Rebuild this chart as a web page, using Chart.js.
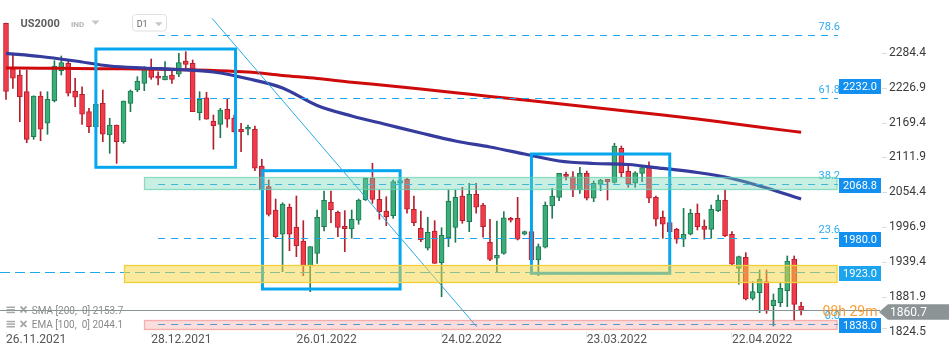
<!DOCTYPE html>
<html><head><meta charset="utf-8">
<script src="https://cdn.jsdelivr.net/npm/chart.js@4.4.1/dist/chart.umd.min.js"></script>
<style>html,body{margin:0;padding:0;background:#fff;overflow:hidden}canvas{display:block}</style>
</head><body>
<canvas id="c" width="949" height="358"></canvas>
<script>
// ---------- data ----------
const symbol = 'US2000';
const tickIndex = [0, 21, 42, 63, 84, 105];
const tickLabels = ['26.11.2021', '28.12.2021', '26.01.2022', '24.02.2022', '23.03.2022', '22.04.2022'];
const priceTicks = [2284.4, 2226.9, 2169.4, 2111.9, 2054.4, 1996.9, 1939.4, 1881.9, 1824.5];

const open = [2332.8,2258.7,2247.7,2220.2,2146.1,2213.1,2168.2,2205.4,2254.8,2267.0,2221.4,2215.9,2187.3,2162.6,2201.1,2148.9,2165.4,2137.9,2201.1,2223.0,2234.0,2258.7,2246.1,2239.5,2247.7,2248.9,2270.8,2267.0,2185.6,2210.3,2172.0,2166.5,2191.2,2176.9,2158.3,2158.3,2158.3,2097.9,2063.8,2025.4,1985.4,2029.9,1996.9,1974.4,1933.2,1954.1,1997.9,2038.6,2021.6,1998.6,1994.1,2008.5,2041.9,2077.6,2043.0,2023.8,2016.0,2069.4,2076.0,2026.6,1995.3,1962.4,1990.8,1938.6,1979.8,1996.9,2048.5,2006.1,2051.3,2033.6,1972.2,1945.9,1954.1,2011.7,2011.7,1985.4,1989.7,1943.1,1964.0,2032.0,2046.3,2084.2,2080.2,2058.3,2085.8,2044.7,2067.7,2076.0,2071.0,2127.0,2089.1,2069.4,2085.8,2095.1,2046.3,2013.4,2004.5,1993.6,1977.2,1985.4,2020.0,1999.1,1993.6,2024.3,2041.9,1985.4,1929.4,1947.5,1880.0,1889.2,1907.4,1867.8,1872.8,1892.5,1944.7,1867.3];
const high = [2333.0,2283.9,2255.9,2255.9,2213.5,2220.2,2220.2,2271.3,2279.0,2273.6,2242.3,2228.4,2192.9,2200.0,2223.0,2176.4,2165.4,2204.9,2223.0,2244.9,2261.4,2274.0,2253.1,2269.6,2255.9,2283.4,2286.1,2272.4,2220.2,2219.2,2181.8,2192.9,2209.3,2181.8,2168.2,2165.4,2163.7,2108.9,2074.8,2043.5,2037.4,2035.3,2048.5,2007.8,1965.0,2025.4,2056.7,2056.7,2023.8,2024.3,2025.4,2043.5,2078.0,2102.3,2058.3,2047.3,2074.8,2078.0,2077.6,2048.5,2023.8,2013.4,2007.8,1996.3,2058.3,2058.3,2062.8,2069.4,2069.4,2036.4,2010.1,2007.3,2022.6,2013.4,2046.3,1990.8,1992.4,1969.4,2038.6,2061.1,2085.8,2088.0,2088.5,2095.7,2089.6,2073.2,2076.0,2076.0,2135.2,2130.8,2097.9,2088.5,2097.9,2104.9,2048.5,2023.8,2005.6,1995.3,2028.2,2026.6,2035.3,2009.0,2033.6,2050.1,2058.3,1989.7,1949.7,1955.1,1907.4,1926.6,1926.6,1887.1,1904.7,1949.7,1949.7,1873.4];
const low = [2207.4,2225.8,2170.8,2136.2,2141.8,2139.5,2150.1,2203.2,2247.7,2213.1,2195.5,2166.5,2152.7,2160.0,2137.9,2118.8,2102.3,2135.2,2187.3,2220.2,2221.9,2240.6,2231.2,2239.5,2234.0,2244.9,2258.7,2187.3,2173.6,2174.8,2125.4,2144.5,2161.6,2153.7,2121.4,2148.9,2090.1,2053.4,2015.5,1979.3,1923.8,1958.4,1948.5,1917.2,1890.9,1937.6,1990.8,2004.5,1981.4,1956.8,1978.8,2001.9,2041.0,2036.4,2010.1,1999.6,2011.7,2066.0,2020.0,1999.6,1973.2,1959.5,1937.6,1882.7,1965.0,1972.2,2003.5,1989.7,2020.0,1980.5,1941.9,1922.2,1952.5,2005.6,1976.0,1984.3,1941.4,1917.2,1962.8,2011.7,2040.7,2074.8,2047.3,2052.9,2041.9,2039.1,2057.2,2041.9,2069.4,2080.2,2062.8,2062.8,2072.0,2037.4,1999.1,1978.8,1988.0,1970.6,1965.0,1984.3,1992.5,1977.2,1978.8,2022.6,1981.4,1934.8,1903.1,1877.2,1877.2,1856.3,1855.3,1834.4,1866.2,1866.2,1844.3,1852.5];
const close = [2220.5,2242.3,2212.0,2141.8,2213.1,2158.3,2207.7,2262.5,2268.0,2217.6,2211.0,2183.0,2162.6,2199.5,2150.1,2165.4,2137.9,2204.9,2221.4,2237.8,2260.4,2243.9,2242.3,2246.1,2240.6,2268.0,2265.3,2187.3,2207.7,2174.8,2164.2,2190.1,2174.8,2154.3,2154.3,2161.6,2094.1,2058.3,2018.3,1981.4,2035.3,1985.4,1966.6,1933.2,1965.0,2013.4,2041.4,2025.4,1996.9,1994.6,2010.1,2041.9,2077.6,2043.0,2022.6,2014.4,2072.0,2073.7,2026.6,2004.5,1976.0,1988.7,1937.6,1983.8,2040.2,2046.3,2007.8,2051.3,2029.9,1997.9,1944.2,1950.8,2012.7,2008.5,1977.2,1989.7,1943.1,1965.0,2033.1,2048.5,2085.8,2080.6,2058.3,2085.8,2044.7,2069.4,2074.8,2072.0,2130.8,2086.8,2068.2,2086.8,2095.1,2044.7,2010.1,2001.9,1989.7,1977.2,1985.4,2020.0,1997.9,1993.6,2026.6,2041.9,1982.6,1936.0,1948.5,1878.9,1890.9,1911.3,1859.1,1877.2,1896.5,1941.4,1870.1,1860.7];

const maIndex = [0,5,10,15,20,25,30,35,40,45,50,55,60,65,70,75,80,85,90,95,100,105,110,115];
const sma200 = [2259.2,2258.9,2258.4,2258.0,2257.6,2256.5,2255.1,2252.6,2246.9,2241.9,2235.7,2230.4,2224.7,2218.6,2212.3,2206.5,2200.3,2194.2,2188.1,2181.8,2175.3,2167.8,2160.4,2153.3];
const ema100 = [2283.4,2278.2,2270.8,2262.5,2259.2,2256.8,2252.6,2241.6,2226.3,2197.5,2180.2,2166.2,2152.2,2139.0,2129.1,2117.6,2106.1,2102.0,2100.3,2093.8,2087.2,2077.3,2061.6,2043.5];
const smaLast = 2153.7, emaLast = 2044.1;

const fibNames = ['78.6', '61.8', '38.2', '23.6', '0.0'];
const fibValues = [2314, 2210, 2068.8, 1980, 1838];
const fibStart = 22;
const supportLevel = 1923;
const zoneStart = [20, 17, 20];
const zoneHigh = [2079.3, 1934.8, 1844.3];
const zoneLow = [2059.5, 1907.3, 1830.0];
const boxStart = [13, 37.1, 76];
const boxEnd = [33.2, 57, 96];
const boxHigh = [2290.5, 2090.1, 2117.6];
const boxLow = [2095.7, 1895.3, 1921.2];
const trendFrom = [29.8, 2341];
const trendTo = [68.1, 1833];
const levelLabels = [2232.0, 2068.8, 1980.0, 1923.0, 1838.0];
const lastPrice = 1860.7;
const countdown = '08h 29m';

// ---------- styles ----------
const GREEN = '#3aad79', GREEN_D = '#1e7a51', RED = '#f23a48', RED_D = '#b51f2e';
const isUp = i => close[i] >= open[i];
Chart.defaults.font.family = 'Roboto, "Noto Sans", sans-serif';

const overlay = {
  id: 'overlay',
  afterDatasetsDraw(chart) {
    const {ctx, chartArea: ca, scales: {x: xs, y: ys}} = chart;
    const X = v => xs.getPixelForValue(v), Y = v => ys.getPixelForValue(v);
    ctx.save();
    ctx.beginPath(); ctx.rect(ca.left, ca.top, ca.right - ca.left, ca.bottom - ca.top); ctx.clip();
    // rectangles
    ctx.lineWidth = 3; ctx.strokeStyle = '#06a6ee';
    boxStart.forEach((s, k) => ctx.strokeRect(X(s), Y(boxHigh[k]), X(boxEnd[k]) - X(s), Y(boxLow[k]) - Y(boxHigh[k])));
    // trend line
    ctx.lineWidth = 1; ctx.strokeStyle = '#2ca9e8';
    ctx.beginPath(); ctx.moveTo(X(trendFrom[0]), Y(trendFrom[1])); ctx.lineTo(X(trendTo[0]), Y(trendTo[1])); ctx.stroke();
    // fib dashed lines
    ctx.strokeStyle = '#1ea6ee'; ctx.setLineDash([7, 6]);
    fibValues.forEach(v => { const y = Math.round(Y(v)) + 0.5; ctx.beginPath(); ctx.moveTo(X(fibStart), y); ctx.lineTo(ca.right, y); ctx.stroke(); });
    ctx.setLineDash([10, 5]);
    { const y = Math.round(Y(supportLevel)) + 0.5; ctx.beginPath(); ctx.moveTo(ca.left, y); ctx.lineTo(ca.right, y); ctx.stroke(); }
    ctx.setLineDash([]);
    ctx.restore();

    // fib labels
    ctx.save();
    ctx.font = '11px Roboto'; ctx.fillStyle = '#2eaaf0'; ctx.textAlign = 'right'; ctx.textBaseline = 'alphabetic';
    fibNames.forEach((n, k) => ctx.fillText(n, ca.right + 2, Math.round(Y(fibValues[k])) - 5));

    // zones
    const zf = ['rgba(110,214,180,0.38)', 'rgba(248,214,60,0.5)', 'rgba(240,120,120,0.25)'];
    const zs = ['rgba(100,210,175,0.7)', '#f2cf3a', 'rgba(240,130,130,0.6)'];
    zoneStart.forEach((s, k) => {
      const x0 = Math.round(X(s)) + 0.5, y0 = Math.round(Y(zoneHigh[k])) + 0.5, y1 = Math.round(Y(zoneLow[k])) + 0.5;
      const w = ca.right - 1 - x0;
      ctx.fillStyle = zf[k]; ctx.fillRect(x0, y0, w, y1 - y0);
      ctx.strokeStyle = zs[k]; ctx.lineWidth = 1.3; ctx.strokeRect(x0, y0, w, y1 - y0);
    });

    // header
    ctx.textAlign = 'left'; ctx.textBaseline = 'alphabetic';
    ctx.font = 'bold 11px Roboto'; ctx.fillStyle = '#5d5d5d'; ctx.fillText(symbol, 20.5, 27.3);
    ctx.font = 'bold 8px Roboto'; ctx.fillStyle = '#b4b4b4'; ctx.fillText('IND', 71, 26.8);
    ctx.fillStyle = '#c6c6c6';
    ctx.beginPath(); ctx.moveTo(91.5, 20.5); ctx.lineTo(99.5, 20.5); ctx.lineTo(95.5, 24.8); ctx.closePath(); ctx.fill();
    ctx.strokeStyle = '#e0e0e0'; ctx.lineWidth = 1;
    ctx.beginPath(); ctx.roundRect(132.5, 14.5, 34, 16.5, 3); ctx.stroke();
    ctx.font = '9px Roboto'; ctx.fillStyle = '#666'; ctx.fillText('D1', 136.7, 26.7);
    ctx.fillStyle = '#c6c6c6';
    ctx.beginPath(); ctx.moveTo(155, 22.3); ctx.lineTo(162.5, 22.3); ctx.lineTo(158.7, 26.2); ctx.closePath(); ctx.fill();

    // indicator legend
    const leg = [['SMA [200,  0] ' + smaLast.toFixed(1), 311.5], ['EMA [100,  0] ' + emaLast.toFixed(1), 325.8]];
    leg.forEach(([t, y]) => {
      ctx.fillStyle = '#a8a8a8';
      for (let r = 0; r < 3; r++) ctx.fillRect(6.5, y - 5 + r * 2.6, 8.5, 1.5);
      ctx.strokeStyle = '#a8a8a8'; ctx.lineWidth = 1.8;
      ctx.beginPath(); ctx.moveTo(20.5, y - 5); ctx.lineTo(26.5, y + 1); ctx.moveTo(26.5, y - 5); ctx.lineTo(20.5, y + 1); ctx.stroke();
      ctx.font = '10px Roboto'; ctx.fillStyle = '#8a8a8a'; ctx.textBaseline = 'middle';
      ctx.fillText(t, 31.7, y);
    });

    // y tick dashes
    ctx.strokeStyle = '#dcdcdc'; ctx.lineWidth = 1;
    priceTicks.forEach(v => { const y = Math.min(Math.round(Y(v)), 328) + 0.5; ctx.beginPath(); ctx.moveTo(882, y); ctx.lineTo(887, y); ctx.stroke(); });

    // last price line
    const py = Math.round(Y(lastPrice)) + 0.5;
    ctx.strokeStyle = '#8c9496'; ctx.lineWidth = 1.2;
    ctx.beginPath(); ctx.moveTo(ca.left, py); ctx.lineTo(880, py); ctx.stroke();

    // countdown
    ctx.font = '14px Roboto'; ctx.fillStyle = 'rgba(247,147,30,0.9)'; ctx.textBaseline = 'middle'; ctx.textAlign = 'left';
    ctx.fillText(countdown, 822.5, py + 1.5);

    // level label boxes
    ctx.font = '11px Roboto'; ctx.textAlign = 'center'; ctx.textBaseline = 'middle';
    levelLabels.forEach(v => {
      const cy = Math.round(Y(v)) + 1.5;
      ctx.fillStyle = v === supportLevel ? '#1ca4ee' : '#1390ef';
      ctx.fillRect(839, cy - 7.5, 42, 15);
      ctx.fillStyle = '#fff'; ctx.fillText(v.toFixed(1), 860, cy + 0.5);
    });
    // last price pointer
    const cy = py + 1.5;
    ctx.fillStyle = '#8c9496';
    ctx.beginPath(); ctx.moveTo(879, cy); ctx.lineTo(888, cy - 7.8); ctx.lineTo(949, cy - 7.8); ctx.lineTo(949, cy + 7.8); ctx.lineTo(888, cy + 7.8); ctx.closePath(); ctx.fill();
    ctx.font = '12px Roboto'; ctx.fillStyle = '#fff'; ctx.textAlign = 'left';
    ctx.fillText(lastPrice.toFixed(1), 890, cy + 0.5);
    ctx.restore();
  }
};

const idx = open.map((_, i) => i);
new Chart(document.getElementById('c'), {
  type: 'bar',
  data: {
    datasets: [
      { type: 'line', label: 'SMA 200', data: maIndex.map((x, k) => ({x, y: sma200[k]})), borderColor: '#cf0a0a', borderWidth: 3, pointRadius: 0, cubicInterpolationMode: 'monotone', order: 1 },
      { type: 'line', label: 'EMA 100', data: maIndex.map((x, k) => ({x, y: ema100[k]})), borderColor: '#353c9e', borderWidth: 3.2, pointRadius: 0, cubicInterpolationMode: 'monotone', order: 0 },
      { label: 'body', data: idx.map(i => ({x: i, y: [open[i], close[i]]})), grouped: false, barThickness: 5, borderWidth: 1, borderSkipped: false,
        backgroundColor: c => isUp(c.dataIndex) ? GREEN : RED, borderColor: c => isUp(c.dataIndex) ? GREEN_D : RED_D, order: 2 },
      { label: 'wick', data: idx.map(i => ({x: i, y: [low[i], high[i]]})), grouped: false, barThickness: 1,
        backgroundColor: c => isUp(c.dataIndex) ? GREEN_D : RED_D, order: 3 }
    ]
  },
  options: {
    responsive: false, animation: false, devicePixelRatio: 1,
    layout: { padding: 0 },
    plugins: { legend: { display: false }, tooltip: { enabled: false } },
    scales: {
      x: {
        type: 'linear', min: -0.868, max: 120.336, offset: false,
        grid: { display: true, drawOnChartArea: false, drawTicks: true, tickLength: 6, color: '#e6e6e6', offset: false },
        border: { display: false },
        afterBuildTicks: s => { s.ticks = tickIndex.map(v => ({value: v})); },
        afterFit: s => { s.height = 26; s.paddingLeft = 0; s.paddingRight = 0; },
        ticks: { align: 'start', maxRotation: 0, autoSkip: false, padding: -5, color: '#555', font: { size: 12 },
          callback: v => { const k = tickIndex.indexOf(v); return k >= 0 ? tickLabels[k] : ''; } }
      },
      y: {
        type: 'linear', position: 'right', min: 1824.5, max: 2371.2,
        grid: { display: false, drawTicks: false }, border: { display: false },
        afterBuildTicks: s => { s.ticks = priceTicks.map(v => ({value: v})); },
        afterFit: s => { s.width = 111; s.paddingTop = 0; s.paddingBottom = 0; },
        ticks: { padding: 51, color: '#3a3a3a', font: { size: 12 }, callback: v => v.toFixed(1) }
      }
    }
  },
  plugins: [overlay]
});
</script>
</body></html>
